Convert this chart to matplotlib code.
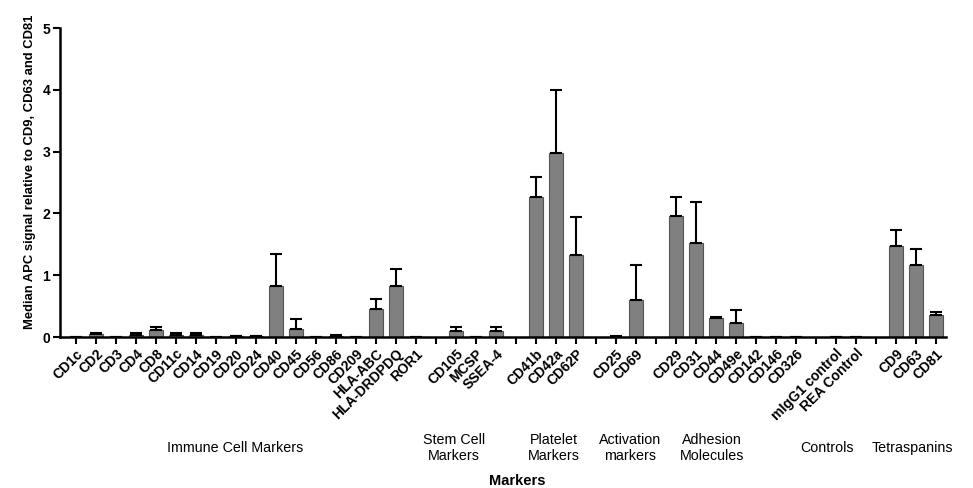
import numpy as np
import matplotlib
matplotlib.use("Agg")
import matplotlib.pyplot as plt

plt.rcParams['font.family'] = ['Liberation Sans', 'DejaVu Sans']

# marker names per slot ('' = empty spacer slot between groups)
markers = ['CD1c', 'CD2', 'CD3', 'CD4', 'CD8', 'CD11c', 'CD14', 'CD19', 'CD20', 'CD24',
           'CD40', 'CD45', 'CD56', 'CD86', 'CD209', 'HLA-ABC', 'HLA-DRDPDQ', 'ROR1', '',
           'CD105', 'MCSP', 'SSEA-4', '',
           'CD41b', 'CD42a', 'CD62P', '',
           'CD25', 'CD69', '',
           'CD29', 'CD31', 'CD44', 'CD49e', 'CD142', 'CD146', 'CD326', '',
           'mIgG1 control', 'REA Control', '',
           'CD9', 'CD63', 'CD81']

# median signal (None = spacer)
values = [0.0, 0.05, 0.0, 0.03, 0.11, 0.04, 0.04, 0.0, 0.01, 0.01,
          0.82, 0.13, 0.0, 0.02, 0.0, 0.45, 0.83, 0.0, None,
          0.09, 0.0, 0.10, None,
          2.26, 2.98, 1.33, None,
          0.005, 0.60, None,
          1.96, 1.52, 0.31, 0.23, 0.0, 0.0, 0.0, None,
          0.0, 0.0, None,
          1.48, 1.17, 0.35]

# top of error bar
err_top = [0.0, 0.07, 0.0, 0.06, 0.17, 0.07, 0.07, 0.0, 0.02, 0.02,
           1.34, 0.29, 0.0, 0.03, 0.0, 0.61, 1.10, 0.0, None,
           0.17, 0.0, 0.17, None,
           2.59, 3.99, 1.94, None,
           0.01, 1.16, None,
           2.27, 2.18, 0.33, 0.44, 0.0, 0.0, 0.0, None,
           0.0, 0.0, None,
           1.73, 1.43, 0.41]

groups = ['Immune Cell Markers', 'Stem Cell\nMarkers', 'Platelet\nMarkers',
          'Activation\nmarkers', 'Adhesion\nMolecules', 'Controls', 'Tetraspanins']
group_x = [7.95, 18.9, 23.9, 27.7, 31.8, 37.55, 41.8]

x = np.arange(len(markers))
keep = [i for i, v in enumerate(values) if v is not None]
xv = x[keep]
vals = np.array([values[i] for i in keep])
tops = np.array([err_top[i] for i in keep])

fig = plt.figure(figsize=(9.73, 4.88), dpi=100)
ax = fig.add_axes([0.0617, 0.3094, 0.9106, 0.6332])

ax.bar(xv, vals, width=0.67, color='#808080', edgecolor='#555555', linewidth=0.8, zorder=2)
ax.errorbar(xv, vals, yerr=[np.zeros_like(vals), tops - vals], fmt='none',
            ecolor='black', elinewidth=1.5, capsize=4, capthick=1.5, zorder=3)

ax.set_xlim(-0.8, 43.5)
ax.set_ylim(0, 5)
ax.set_yticks([0, 1, 2, 3, 4, 5])
ax.set_xticks(x)
ax.set_xticklabels(markers, rotation=45, ha='right', rotation_mode='anchor',
                   fontsize=10, fontweight='bold')
for lab in ax.get_yticklabels():
    lab.set_fontweight('bold')
    lab.set_fontsize(10)

for s in ['top', 'right']:
    ax.spines[s].set_visible(False)
for s in ['left', 'bottom']:
    ax.spines[s].set_linewidth(1.8)
ax.tick_params(axis='x', length=5, width=1.5, pad=2)
ax.tick_params(axis='y', length=5, width=1.5, pad=2)

ax.text(-0.034, 0.534, 'Median APC signal relative to CD9, CD63 and CD81', rotation=90,
        transform=ax.transAxes, ha='center', va='center', fontsize=9.4, fontweight='bold')

trans = ax.get_xaxis_transform()
for g, gx in zip(groups, group_x):
    ax.text(gx, -0.359, g, transform=trans, ha='center', va='center', fontsize=10.3,
            linespacing=1.25)

ax.text(22.05, -0.466, 'Markers', transform=trans, ha='center', va='center',
        fontsize=10.5, fontweight='bold')

fig.savefig('out.png', dpi=100)
